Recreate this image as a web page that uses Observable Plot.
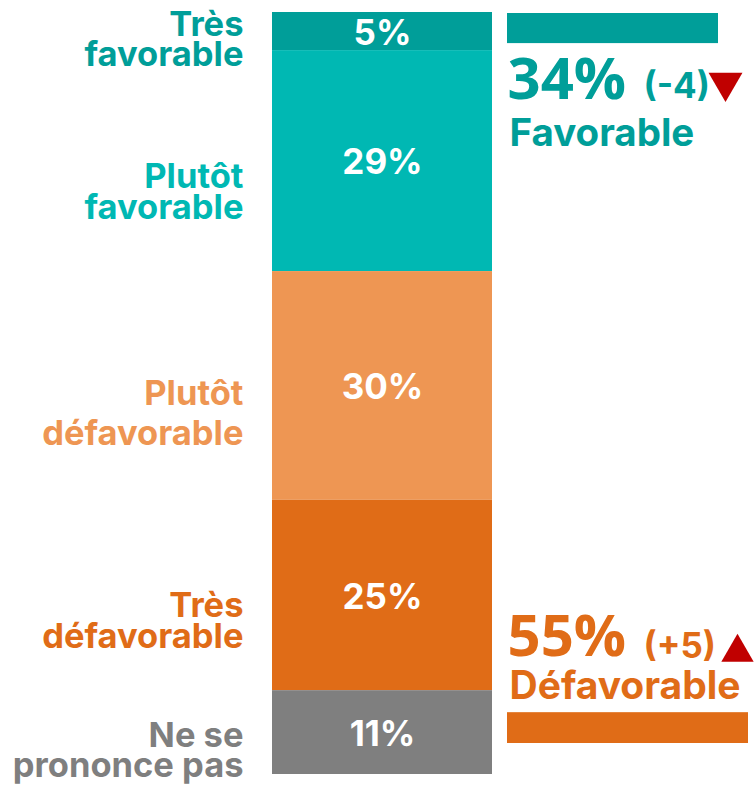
<!DOCTYPE html>
<html>
<head>
<meta charset="utf-8">
<script src="https://cdn.jsdelivr.net/npm/d3@7"></script>
<script src="https://cdn.jsdelivr.net/npm/@observablehq/plot@0.6"></script>
<style>
  html, body { margin: 0; padding: 0; background: #fff; }
</style>
</head>
<body>
<div id="chart"></div>
<script>
// ---- data ----
const categories = ["Très favorable", "Plutôt favorable", "Plutôt défavorable", "Très défavorable", "Ne se prononce pas"];
const categoryLines = ["Très\nfavorable", "Plutôt\nfavorable", "Plutôt\ndéfavorable", "Très\ndéfavorable", "Ne se\nprononce pas"];
const values = [5, 29, 30, 25, 11];

const summaryLabels = ["Favorable", "Défavorable"];
const summaryValues = [34, 55];
const summaryChanges = ["(-4)", "(+5)"];

// ---- styles ----
const colors = ["#009E99", "#00B8B3", "#EE9653", "#E06C17", "#7F7F7F"];
const red = "#C00000";
const labelDy = [34, 57.5, 59.5, 52.5, 44];
const labelLineHeight = [30, 31, 40, 31, 30];
const labelSize = 34.5;
const bigFont = "'Open Sans', sans-serif";

// stack from the top (100) downward
let stackTop = 100;
const rows = categories.map((c, i) => {
  const y2 = stackTop, y1 = stackTop - values[i];
  stackTop = y1;
  return {category: c, lines: categoryLines[i], value: values[i], y1, y2, mid: (y1 + y2) / 2};
});

const summaries = summaryLabels.map((l, i) => ({label: l, value: summaryValues[i], change: summaryChanges[i]}));

const marks = [
  Plot.rect(rows, {x1: 272, x2: 492, y1: "y1", y2: "y2", fill: "category"}),
  Plot.text(rows, {x: 382, y: "mid", text: d => d.value + "%", fill: "white", fontSize: 35, fontWeight: 700, lineAnchor: "middle", dy: 2}),
  Plot.rect([rows[0]], {x1: 507, x2: 718, y1: "y1", y2: "y2", insetTop: 1, insetBottom: 7, fill: colors[0]}),
  Plot.rect([rows[4]], {x1: 507, x2: 748, y1: "y1", y2: "y2", insetTop: 22, insetBottom: 31, fill: colors[3]}),
  Plot.text([summaries[0]], {x: 507, frameAnchor: "top", dy: 86, text: d => d.value + "%", fill: colors[0], fontSize: 58, fontWeight: 700, fontFamily: bigFont, textAnchor: "start", lineAnchor: "bottom"}),
  Plot.text([summaries[0]], {x: 643, frameAnchor: "top", dy: 85, text: "change", fill: colors[0], fontSize: 35, fontWeight: 700, textAnchor: "start", lineAnchor: "bottom"}),
  Plot.text([summaries[0]], {x: 509, frameAnchor: "top", dy: 133, text: "label", fill: colors[0], fontSize: 38.5, fontWeight: 700, textAnchor: "start", lineAnchor: "bottom"}),
  Plot.dot([summaries[0]], {x: 725, frameAnchor: "top", dy: 70, symbol: "triangle", r: 12.6, rotate: 180, fill: red, stroke: null}),
  Plot.text([summaries[1]], {x: 507, frameAnchor: "top", dy: 643, text: d => d.value + "%", fill: colors[3], fontSize: 58, fontWeight: 700, fontFamily: bigFont, textAnchor: "start", lineAnchor: "bottom"}),
  Plot.text([summaries[1]], {x: 643, frameAnchor: "top", dy: 645, text: "change", fill: colors[3], fontSize: 35, fontWeight: 700, textAnchor: "start", lineAnchor: "bottom"}),
  Plot.text([summaries[1]], {x: 509, frameAnchor: "top", dy: 686, text: "label", fill: colors[3], fontSize: 39, fontWeight: 700, textAnchor: "start", lineAnchor: "bottom"}),
  Plot.dot([summaries[1]], {x: 737, frameAnchor: "top", dy: 640, symbol: "triangle", r: 12, fill: red, stroke: null}),
];

rows.forEach((r, i) => {
  marks.push(Plot.text([r], {
    x: 243, y: "mid", text: "lines", fill: "category",
    fontSize: labelSize, fontWeight: 700, textAnchor: "end", lineAnchor: "bottom",
    lineHeight: labelLineHeight[i] / labelSize, dy: labelDy[i]
  }));
});

const chart = Plot.plot({
  width: 754,
  height: 789,
  marginTop: 12,
  marginBottom: 15,
  marginLeft: 0,
  marginRight: 0,
  x: {type: "identity", axis: null},
  y: {domain: [0, 100], axis: null},
  color: {domain: categories, range: colors},
  style: {fontFamily: "Inter, 'Liberation Sans', sans-serif", background: "white"},
  marks
});
document.getElementById("chart").appendChild(chart);
</script>
</body>
</html>
